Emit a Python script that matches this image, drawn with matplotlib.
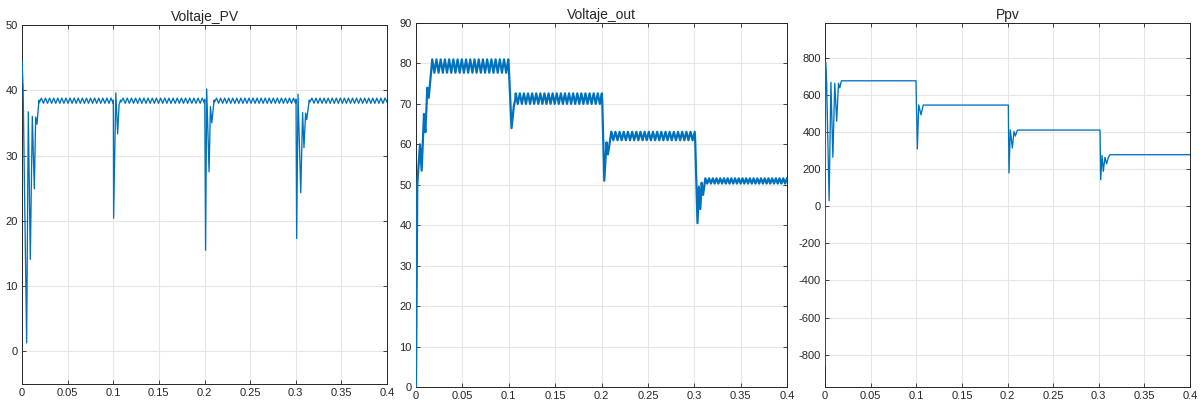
import numpy as np
import matplotlib
matplotlib.use("Agg")
import matplotlib.pyplot as plt

plt.rcParams['font.family'] = ['Liberation Sans', 'DejaVu Sans']

# ---------------- data ----------------
titles = ["Voltaje_PV", "Voltaje_out", "Ppv"]
x_ticks = [0, 0.05, 0.1, 0.15, 0.2, 0.25, 0.3, 0.35, 0.4]
x_ticklabels = ["0", "0.05", "0.1", "0.15", "0.2", "0.25", "0.3", "0.35", "0.4"]

# Voltaje_PV: transients (explicit points) and steady ripple segments
pv_t_tr0 = [0.0, 0.0012, 0.0051, 0.0069, 0.0091, 0.0113, 0.0135, 0.0150, 0.0164, 0.0186]
pv_v_tr0 = [44.5, 40.5, 1.3, 36.7, 14.1, 36.0, 24.9, 35.9, 34.8, 38.5]
pv_t_tr1 = [0.1001, 0.1004, 0.1028, 0.1048, 0.1064, 0.1080]
pv_v_tr1 = [38.5, 20.4, 39.6, 33.3, 37.8, 38.5]
pv_t_tr2 = [0.2003, 0.2012, 0.2024, 0.2050, 0.2065, 0.2080, 0.2105]
pv_v_tr2 = [38.6, 15.5, 40.2, 27.5, 37.5, 35.0, 38.5]
pv_t_tr3 = [0.3003, 0.3010, 0.3025, 0.3055, 0.3075, 0.3090, 0.3108, 0.3120, 0.3148]
pv_v_tr3 = [38.6, 17.3, 39.4, 24.3, 36.6, 31.2, 36.5, 35.5, 38.5]
pv_rip_span = [(0.0190, 0.0998), (0.1085, 0.1998), (0.2110, 0.2998), (0.3155, 0.4)]
pv_rip1 = [38.1, 38.8, 38.0, 38.8, 38.0, 38.8, 38.0, 38.8, 38.0, 38.8, 38.0, 38.8,
           38.0, 38.8, 38.0, 38.8, 38.0, 38.8, 38.0, 38.8, 38.0, 38.8, 38.0, 38.8,
           38.0, 38.8, 38.0, 38.8, 38.0, 38.8, 38.0, 38.8, 38.0, 38.8, 38.0, 38.8, 38.0]
pv_rip2 = [38.2, 38.8, 38.0, 38.8, 38.0, 38.8, 38.0, 38.8, 38.0, 38.8, 38.0, 38.8,
           38.0, 38.8, 38.0, 38.8, 38.0, 38.8, 38.0, 38.8, 38.0, 38.8, 38.0, 38.8,
           38.0, 38.8, 38.0, 38.8, 38.0, 38.8, 38.0, 38.8, 38.0, 38.8, 38.0, 38.8,
           38.0, 38.8, 38.0, 38.8, 38.0]
pv_rip3 = [38.2, 38.8, 38.0, 38.8, 38.0, 38.8, 38.0, 38.8, 38.0, 38.8, 38.0, 38.8,
           38.0, 38.8, 38.0, 38.8, 38.0, 38.8, 38.0, 38.8, 38.0, 38.8, 38.0, 38.8,
           38.0, 38.8, 38.0, 38.8, 38.0, 38.8, 38.0, 38.8, 38.0, 38.8, 38.0, 38.8,
           38.0, 38.8, 38.0, 38.8, 38.0]
pv_rip4 = [38.2, 38.8, 38.0, 38.8, 38.0, 38.8, 38.0, 38.8, 38.0, 38.8, 38.0, 38.8,
           38.0, 38.8, 38.0, 38.8, 38.0, 38.8, 38.0, 38.8, 38.0, 38.8, 38.0, 38.8,
           38.0, 38.8, 38.0, 38.8, 38.0, 38.8, 38.0, 38.8, 38.0, 38.8, 38.0, 38.8,
           38.0, 38.8, 38.2]

# Voltaje_out
vo_t_tr0 = [0.0, 0.0014, 0.0043, 0.0061, 0.0086, 0.0101, 0.0122, 0.0137, 0.0172]
vo_v_tr0 = [0.0, 50.0, 60.0, 53.5, 67.5, 63.0, 74.0, 71.5, 80.5]
vo_t_tr1 = [0.1000, 0.1030, 0.1055, 0.1070]
vo_v_tr1 = [79.5, 64.0, 69.5, 71.0]
vo_t_tr2 = [0.2008, 0.2030, 0.2054, 0.2069, 0.2099]
vo_v_tr2 = [70.5, 51.0, 60.5, 57.5, 62.0]
vo_t_tr3 = [0.3010, 0.3035, 0.3050, 0.3065, 0.3080, 0.3095, 0.3115]
vo_v_tr3 = [61.0, 40.5, 49.5, 44.0, 50.5, 47.5, 50.8]
vo_rip_span = [(0.0175, 0.0995), (0.1075, 0.2004), (0.2105, 0.3005), (0.3120, 0.4)]
vo_rip1 = [81.0, 77.7, 81.0, 77.7, 81.0, 77.7, 81.0, 77.7, 81.0, 77.7, 81.0, 77.7,
           81.0, 77.7, 81.0, 77.7, 81.0, 77.7, 81.0, 77.7, 81.0, 77.7, 81.0, 77.7,
           81.0, 77.7, 81.0, 77.7, 81.0, 77.7, 81.0, 77.7, 81.0, 77.7, 81.0, 77.7, 81.0]
vo_rip2 = [72.6, 70.0, 72.6, 70.0, 72.6, 70.0, 72.6, 70.0, 72.6, 70.0, 72.6, 70.0,
           72.6, 70.0, 72.6, 70.0, 72.6, 70.0, 72.6, 70.0, 72.6, 70.0, 72.6, 70.0,
           72.6, 70.0, 72.6, 70.0, 72.6, 70.0, 72.6, 70.0, 72.6, 70.0, 72.6, 70.0,
           72.6, 70.0, 72.6, 70.0, 72.6, 70.0, 72.6]
vo_rip3 = [63.1, 61.0, 63.1, 61.0, 63.1, 61.0, 63.1, 61.0, 63.1, 61.0, 63.1, 61.0,
           63.1, 61.0, 63.1, 61.0, 63.1, 61.0, 63.1, 61.0, 63.1, 61.0, 63.1, 61.0,
           63.1, 61.0, 63.1, 61.0, 63.1, 61.0, 63.1, 61.0, 63.1, 61.0, 63.1, 61.0,
           63.1, 61.0, 63.1, 61.0, 63.1]
vo_rip4 = [51.6, 50.3, 51.6, 50.3, 51.6, 50.3, 51.6, 50.3, 51.6, 50.3, 51.6, 50.3,
           51.6, 50.3, 51.6, 50.3, 51.6, 50.3, 51.6, 50.3, 51.6, 50.3, 51.6, 50.3,
           51.6, 50.3, 51.6, 50.3, 51.6, 50.3, 51.6, 50.3, 51.6, 50.3, 51.6, 50.3,
           51.6, 50.3, 51.6, 50.3, 51.6, 50.3, 51.6, 50.3, 51.6]

# Ppv
pp_t = [0.0, 0.0006, 0.0018, 0.0045, 0.0065, 0.0086, 0.0107, 0.0128, 0.0148, 0.0162,
        0.0180, 0.0997, 0.1012, 0.1027, 0.1052, 0.1077, 0.2009, 0.2016, 0.2031,
        0.2053, 0.2071, 0.2086, 0.2108, 0.3014, 0.3021, 0.3036, 0.3050, 0.3068,
        0.3086, 0.3104, 0.3122, 0.4]
pp_v = [-860, 780, 670, 30, 670, 265, 665, 460, 665, 640,
        678, 678, 310, 548, 494, 547, 547, 180, 413,
        315, 405, 380, 412, 412, 144, 275, 189, 265,
        230, 262, 279, 279]

y_limits = [(-5, 50), (0, 90), (-975, 990)]
y_ticks = [[0, 10, 20, 30, 40, 50],
           [0, 10, 20, 30, 40, 50, 60, 70, 80, 90],
           [-800, -600, -400, -200, 0, 200, 400, 600, 800]]


def assemble(transients, spans, ripples):
    ts, vs = [], []
    for k in range(4):
        ts.extend(transients[k][0]); vs.extend(transients[k][1])
        rt = np.linspace(spans[k][0], spans[k][1], len(ripples[k]))
        ts.extend(rt); vs.extend(ripples[k])
    return np.array(ts), np.array(vs)


pv_t, pv_v = assemble([(pv_t_tr0, pv_v_tr0), (pv_t_tr1, pv_v_tr1),
                       (pv_t_tr2, pv_v_tr2), (pv_t_tr3, pv_v_tr3)],
                      pv_rip_span, [pv_rip1, pv_rip2, pv_rip3, pv_rip4])
vo_t, vo_v = assemble([(vo_t_tr0, vo_v_tr0), (vo_t_tr1, vo_v_tr1),
                       (vo_t_tr2, vo_v_tr2), (vo_t_tr3, vo_v_tr3)],
                      vo_rip_span, [vo_rip1, vo_rip2, vo_rip3, vo_rip4])

# ---------------- figure ----------------
W, H = 1204, 405
fig = plt.figure(figsize=(W / 100, H / 100), dpi=100)
boxes = [(22, 25, 387, 384), (416, 23, 787, 387), (825, 23, 1190, 387)]
series = [(pv_t, pv_v, 0.95), (vo_t, vo_v, 1.6), (np.array(pp_t), np.array(pp_v), 0.95)]
color = '#0072BD'

for i, (l, t, r, b) in enumerate(boxes):
    ax = fig.add_axes([l / W, 1 - b / H, (r - l) / W, (b - t) / H])
    x, y, lw = series[i]
    ax.plot(x, y, color=color, lw=lw, zorder=3)
    ax.set_xlim(0, 0.4)
    ax.set_ylim(*y_limits[i])
    ax.set_xticks(x_ticks)
    ax.set_xticklabels(x_ticklabels)
    ax.set_yticks(y_ticks[i])
    ax.set_yticklabels([str(v) for v in y_ticks[i]])
    ax.grid(True, color='#e6e6e6', lw=0.8)
    ax.set_axisbelow(True)
    ax.tick_params(direction='in', length=3, width=0.6, labelsize=8,
                   colors='#262626', top=True, right=True, pad=3)
    for s in ax.spines.values():
        s.set_color('#262626')
        s.set_linewidth(0.7)
    ax.set_title(titles[i], fontsize=10, color='#262626', pad=3)

fig.savefig('out.png', dpi=100)
